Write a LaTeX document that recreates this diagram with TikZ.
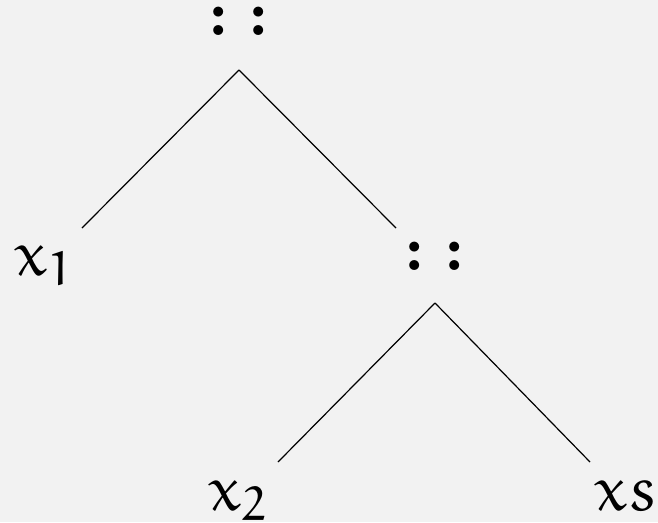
\documentclass[tikz,border=0pt]{standalone}
\usepackage{amssymb}
\newcommand\eu[1]{{\usefont{U}{eur}{m}{n}#1}}
\newcommand\bigtxt[1]{\scalebox{6.4}{\fontsize{10}{12}\selectfont #1}}
\newcommand\dcol{{\bfseries :\kern0.3em:}}
\begin{document}
\begin{tikzpicture}[x=1pt,y=-1pt,
  lbl/.style={inner sep=0pt,anchor=base},
  edge/.style={line width=1.2pt,black}]
\fill[black!5] (0,0) rectangle (658,522);
\useasboundingbox (0,0) rectangle (658,522);
\node[lbl] (top) at (239,35) {\bigtxt{\dcol}};
\node[lbl] (mid) at (435,270) {\bigtxt{\dcol}};
\node[lbl,anchor=base west] (xa) at (14,275) {\bigtxt{\eu{x}\raisebox{-0.16em}{\scalebox{0.75}{\eu{1}}}}};
\node[lbl,anchor=base west] (xb) at (208,510) {\bigtxt{\eu{x}\raisebox{-0.16em}{\scalebox{0.75}{\eu{2}}}}};
\node[lbl,anchor=base east] (xs) at (658,510) {\bigtxt{\eu{xs}}};
\coordinate (a1) at ([yshift=-35pt]top.base);
\coordinate (l1) at (82,228);
\coordinate (r1) at (396,228);
\coordinate (a2) at ([yshift=-33pt]mid.base);
\coordinate (l2) at (278,462);
\coordinate (r2) at (590,462);
\draw[edge] (a1) -- (l1);
\draw[edge] (a1) -- (r1);
\draw[edge] (a2) -- (l2);
\draw[edge] (a2) -- (r2);
\end{tikzpicture}
\end{document}
